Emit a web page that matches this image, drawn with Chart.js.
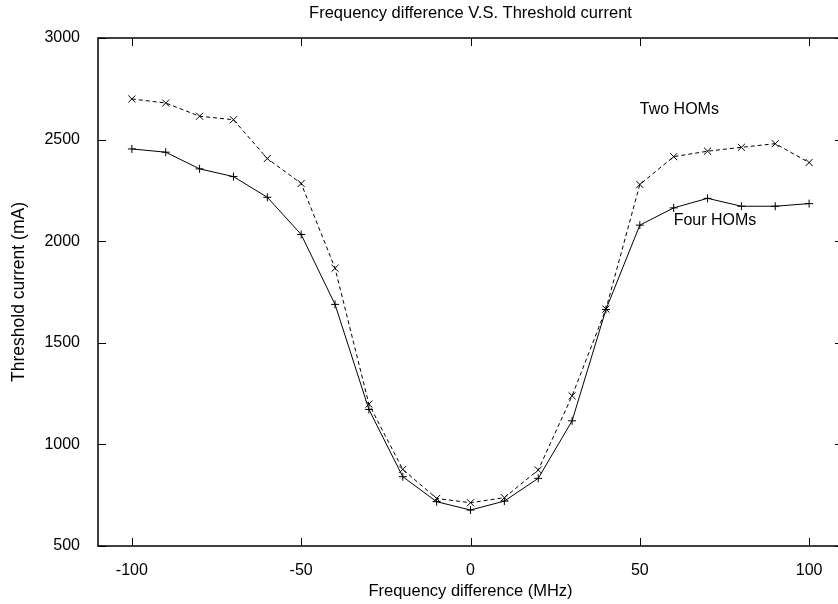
<!DOCTYPE html>
<html>
<head>
<meta charset="utf-8">
<script src="https://cdn.jsdelivr.net/npm/chart.js@4/dist/chart.umd.min.js"></script>
<style>
  html, body { margin: 0; padding: 0; background: #fff; overflow: hidden; }
  canvas { display: block; }
</style>
</head>
<body>
<canvas id="chart" width="850" height="604" style="width:850px;height:604px"></canvas>
<script>
"use strict";

const freqDiff = [-100, -90, -80, -70, -60, -50, -40, -30, -20, -10, 0, 10, 20, 30, 40, 50, 60, 70, 80, 90, 100];
const twoHoms = [2700, 2680, 2615, 2598, 2407, 2284, 1867, 1198, 877, 734, 713, 738, 874, 1239, 1666, 2279, 2416, 2443, 2462, 2480, 2387];
const fourHoms = [2454, 2438, 2356, 2318, 2216, 2033, 1689, 1172, 841, 718, 677, 721, 833, 1116, 1664, 2079, 2164, 2211, 2172, 2172, 2185];

const xTicks = [-100, -50, 0, 50, 100];
const yTicks = [500, 1000, 1500, 2000, 2500, 3000];

const labelTexts = ['Two HOMs', 'Four HOMs'];
const labelX = [50, 60];
const labelY = [2650, 2100];

const FONT = '"Liberation Sans", Arial, Helvetica, sans-serif';

const toPoints = values => values.map((v, i) => ({ x: freqDiff[i], y: v }));

// frame, inward tics, title and text labels, gnuplot style
const framePlugin = {
    id: 'frame',
    afterDraw(chart) {
        const { ctx, chartArea: a, scales } = chart;
        const tic = 8;
        ctx.save();
        ctx.strokeStyle = '#000';
        ctx.lineWidth = 1;
        ctx.beginPath();
        xTicks.forEach(v => {
            const px = Math.round(scales.x.getPixelForValue(v)) + 0.5;
            ctx.moveTo(px, a.bottom); ctx.lineTo(px, a.bottom - tic);
            ctx.moveTo(px, a.top); ctx.lineTo(px, a.top + tic);
        });
        yTicks.forEach(v => {
            const py = Math.round(scales.y.getPixelForValue(v)) + 0.5;
            ctx.moveTo(a.left, py); ctx.lineTo(a.left + tic, py);
            ctx.moveTo(a.right, py); ctx.lineTo(a.right - tic, py);
        });
        ctx.stroke();
        ctx.lineWidth = 1.5;
        ctx.strokeRect(a.left, a.top, a.right - a.left, a.bottom - a.top);

        ctx.fillStyle = '#000';
        ctx.font = '16.5px ' + FONT;
        ctx.textBaseline = 'middle';
        ctx.textAlign = 'center';
        ctx.fillText('Frequency difference V.S. Threshold current', (a.left + a.right) / 2, 13);
        ctx.font = '16px ' + FONT;
        ctx.textAlign = 'left';
        labelTexts.forEach((t, i) => {
            ctx.fillText(t, scales.x.getPixelForValue(labelX[i]), scales.y.getPixelForValue(labelY[i]));
        });
        ctx.restore();
    }
};

new Chart(document.getElementById('chart').getContext('2d'), {
    type: 'line',
    data: {
        datasets: [
            {
                label: 'Four HOMs',
                data: toPoints(fourHoms),
                borderColor: '#000',
                borderWidth: 1,
                pointStyle: 'cross',
                pointRadius: 4,
                pointBorderColor: '#000',
                pointBorderWidth: 1,
                fill: false,
                tension: 0
            },
            {
                label: 'Two HOMs',
                data: toPoints(twoHoms),
                borderColor: '#000',
                borderWidth: 1,
                borderDash: [4, 3],
                pointStyle: 'crossRot',
                pointRadius: 5,
                pointBorderColor: '#000',
                pointBorderWidth: 1,
                fill: false,
                tension: 0
            }
        ]
    },
    options: {
        responsive: false,
        animation: false,
        devicePixelRatio: 1,
        layout: { padding: { top: 38, right: 7, left: 0, bottom: 0 } },
        plugins: {
            legend: { display: false },
            title: { display: false },
            tooltip: { enabled: false }
        },
        scales: {
            x: {
                type: 'linear',
                min: -110,
                max: 110,
                grid: { display: false },
                border: { display: false },
                afterBuildTicks: scale => { scale.ticks = xTicks.map(v => ({ value: v })); },
                afterFit: scale => { scale.height = 58; },
                ticks: {
                    color: '#000', padding: 7, maxRotation: 0,
                    font: { family: FONT, size: 16 },
                    callback: value => String(value)
                },
                title: {
                    display: true,
                    text: 'Frequency difference (MHz)',
                    color: '#000',
                    font: { family: FONT, size: 16.5 },
                    padding: { top: 0, bottom: 3 }
                }
            },
            y: {
                min: 500,
                max: 3000,
                grid: { display: false },
                border: { display: false },
                afterBuildTicks: scale => { scale.ticks = yTicks.map(v => ({ value: v })); },
                afterFit: scale => { scale.width = 98; },
                ticks: {
                    color: '#000', padding: 10,
                    font: { family: FONT, size: 16 },
                    callback: value => String(value)
                },
                title: {
                    display: true,
                    text: 'Threshold current (mA)',
                    color: '#000',
                    font: { family: FONT, size: 17.5 },
                    padding: { top: 9, bottom: 0 }
                }
            }
        }
    },
    plugins: [framePlugin]
});
</script>
</body>
</html>
